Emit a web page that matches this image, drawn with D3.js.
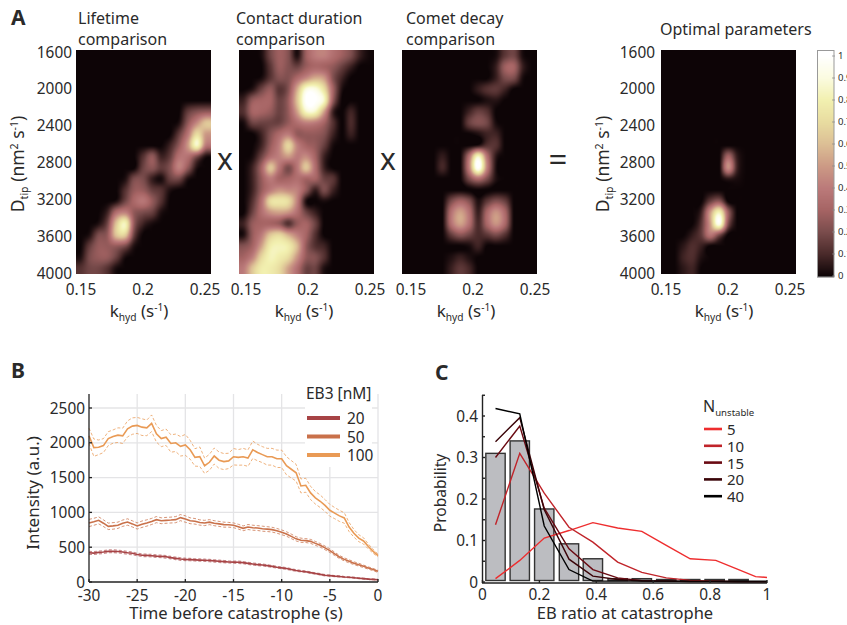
<!DOCTYPE html>
<html><head><meta charset="utf-8">
<script src="https://cdnjs.cloudflare.com/ajax/libs/d3/7.8.5/d3.min.js"></script>
<style>html,body{margin:0;padding:0;background:#fff;overflow:hidden}svg{display:block}text{font-family:"Noto Sans",sans-serif;fill:#2a2a2a}</style>
</head><body><svg id="c" width="847" height="625"></svg>
<script>
// ---- Panel A data ----
const khydGrid=[.1496,.1568,.1641,.1713,.1785,.1857,.193,.2002,.2074,.2146,.2219,.2291,.2363,.2435,.2507];
const dtipGrid=[1640,1761,1883,2004,2125,2247,2368,2489,2611,2732,2853,2975,3096,3217,3339,3460,3581,3703,3824,3945];
const khydTicks=[0.15,0.2,0.25];
const dtipTicks=[1600,2000,2400,2800,3200,3600,4000];
const lifetime=[
[0,0,0,0,0,0,0,0,0,0,0,0,0,0,0],
[0,0,0,0,0,0,0,0,0,0,0,0,0,0,0],
[0,0,0,0,0,0,0,0,0,0,0,0,0,0,0],
[0,0,0,0,0,0,0,0,0,0,0,0,0,0,0],
[0,0,0,0,0,0,0,0,0,0,0,0,0,0,0],
[0,0,0,0,0,0,0,0,0,0,0,0,.15,.22,.25],
[0,0,0,0,0,0,0,0,0,0,0,.03,.25,.45,.62],
[0,0,0,0,0,0,0,0,0,0,0,.15,.38,.7,.5],
[0,0,0,0,0,0,0,0,0,0,.08,.25,.5,.85,.4],
[0,0,0,0,0,0,0,.12,.25,.08,.15,.36,.36,.2,.03],
[0,0,0,0,0,0,0,.17,.24,.15,.22,.42,.25,.03,0],
[0,0,0,0,0,.03,.2,.2,.07,.02,.16,.18,.03,0,0],
[0,0,0,0,0,.12,.26,.26,.16,.12,.03,0,0,0,0],
[0,0,0,0,.03,.18,.32,.38,.26,.12,0,0,0,0,0],
[0,0,0,.08,.35,.42,.25,.2,.16,.03,0,0,0,0,0],
[0,0,.03,.18,.62,.82,.25,.08,.02,0,0,0,0,0,0],
[0,.03,.2,.26,.62,.65,.16,0,0,0,0,0,0,0,0],
[0,.15,.26,.26,.26,.2,.03,0,0,0,0,0,0,0,0],
[.03,.2,.26,.26,.16,.02,0,0,0,0,0,0,0,0,0],
[.12,.18,.18,.12,.02,0,0,0,0,0,0,0,0,0,0]];
const contact=[
[0,0,.02,.18,.28,.22,.03,.28,.4,.42,.35,.28,.2,.07,.01],
[0,0,0,.13,.27,.22,.17,.27,.32,.3,.25,.16,.07,0,0],
[0,0,.02,.13,.22,.22,.33,.45,.55,.5,.22,.08,0,0,0],
[0,.04,.17,.26,.13,.22,.55,.9,.92,.72,.3,.03,0,0,0],
[.08,.26,.3,.3,.17,.27,.62,1,1,.85,.26,0,0,0,0],
[.12,.3,.3,.26,.17,.26,.52,.85,.85,.52,.08,0,.08,0,0],
[.02,.17,.17,.17,.17,.26,.35,.42,.4,.3,.12,0,.1,0,0],
[0,0,.08,.22,.33,.4,.26,.26,.26,.22,.08,0,.07,0,0],
[0,0,.08,.26,.42,.68,.42,.3,.26,.16,.02,0,0,0,0],
[0,.02,.17,.35,.42,.5,.4,.45,.3,.08,0,0,0,0,0],
[0,.08,.3,.62,.38,.2,.38,.62,.35,.08,0,0,0,0,0],
[0,.08,.26,.4,.3,.3,.35,.3,.3,.17,.13,0,0,0,0],
[0,.08,.26,.4,.48,.45,.42,.25,.07,.2,.08,0,0,0,0],
[0,.12,.35,.7,.75,.7,.42,.03,0,.02,0,0,0,0,0],
[0,.17,.35,.48,.52,.48,.35,.17,.07,0,0,0,0,0,0],
[.08,.26,.3,.3,.26,.12,.26,.3,.17,0,0,0,0,0,0],
[.03,.26,.4,.62,.68,.55,.42,.3,.12,0,0,0,0,0,0],
[.22,.3,.52,.78,.82,.78,.58,.26,.12,.08,0,0,0,0,0],
[.3,.42,.68,.82,.78,.7,.48,.26,.22,.12,0,0,0,0,0],
[.4,.62,.78,.78,.7,.52,.35,.17,.17,.03,0,0,0,0,0]];
const comet=[
[0,0,0,0,0,0,0,0,0,0,.02,.14,.18,.02,0],
[0,0,0,0,0,0,0,0,0,0,.07,.28,.3,.07,0],
[0,0,0,0,0,0,0,0,0,0,.07,.2,.2,.02,0],
[0,0,0,0,0,0,0,0,.06,.12,.14,.08,0,0,0],
[0,0,0,0,0,0,0,0,0,.03,.04,0,0,0,0],
[0,0,0,0,0,0,0,.08,.16,.12,0,0,0,0,0],
[0,0,0,0,0,0,0,.16,.22,.18,.02,0,0,0,0],
[0,0,0,0,0,0,0,0,.03,.08,.08,0,0,0,0],
[0,0,0,0,0,0,0,0,.03,.12,.12,0,0,0,0],
[0,0,0,0,.06,0,0,.36,.85,.36,.05,0,0,0,0],
[0,0,0,0,.09,0,0,.42,1,.42,.03,0,0,0,0],
[0,0,0,0,0,0,0,.2,.34,.2,.03,0,0,0,0],
[0,0,0,0,0,0,0,0,0,0,0,0,0,0,0],
[0,0,0,0,0,.2,.3,.22,.03,.14,.22,.16,0,0,0],
[0,0,0,0,0,.36,.52,.36,.07,.32,.48,.32,0,0,0],
[0,0,0,0,0,.36,.52,.36,.1,.32,.48,.32,0,0,0],
[0,0,0,0,0,.15,.24,.18,.1,.14,.2,.12,0,0,0],
[0,0,0,0,0,0,0,.02,.08,0,0,0,0,0,0],
[0,0,0,0,0,.03,.07,.03,0,0,0,0,0,0,0],
[0,0,0,0,0,.07,.14,.09,0,0,0,0,0,0,0]];
const optimal=[
[0,0,0,0,0,0,0,0,0,0,0,0,0,0,0],
[0,0,0,0,0,0,0,0,0,0,0,0,0,0,0],
[0,0,0,0,0,0,0,0,0,0,0,0,0,0,0],
[0,0,0,0,0,0,0,0,0,0,0,0,0,0,0],
[0,0,0,0,0,0,0,0,0,0,0,0,0,0,0],
[0,0,0,0,0,0,0,0,0,0,0,0,0,0,0],
[0,0,0,0,0,0,0,0,0,0,0,0,0,0,0],
[0,0,0,0,0,0,0,0,0,0,0,0,0,0,0],
[0,0,0,0,0,0,0,0,0,0,0,0,0,0,0],
[0,0,0,0,0,0,0,.3,.06,0,0,0,0,0,0],
[0,0,0,0,0,0,0,.46,.08,0,0,0,0,0,0],
[0,0,0,0,0,0,0,.05,.02,0,0,0,0,0,0],
[0,0,0,0,0,0,0,0,0,0,0,0,0,0,0],
[0,0,0,0,0,.16,.24,0,0,0,0,0,0,0,0],
[0,0,0,0,.08,.5,.82,.28,0,0,0,0,0,0,0],
[0,0,0,0,.13,.5,.95,.22,0,0,0,0,0,0,0],
[0,0,0,.06,.15,.38,.2,0,0,0,0,0,0,0,0],
[0,0,.05,.11,.07,0,0,0,0,0,0,0,0,0,0],
[0,0,.08,.11,.03,0,0,0,0,0,0,0,0,0,0],
[0,0,.05,.08,0,0,0,0,0,0,0,0,0,0,0]];
const colorStops=[0,.1,.2,.3,.4,.5,.6,.7,.8,.9,1];
const colorRange=["#0d0406","#4a2a2a","#7a4c4c","#a66464","#bb7a7a","#cc9a85","#dcbf95","#e8dca0","#f2f0b0","#fbfbe0","#ffffff"];
const colorbarTicks=[0,.1,.2,.3,.4,.5,.6,.7,.8,.9,1];
// ---- Panel B data ----
const time=d3.range(-30,0.25,0.5);
const intensity20=[420,415,425,430,440,442,438,430,420,412,395,385,382,378,372,368,362,350,340,330,325,322,318,315,312,308,303,298,293,288,285,283,278,268,258,250,245,235,225,212,203,195,180,165,155,148,135,122,110,98,92,85,80,72,68,62,55,48,42,38,33];
const intensity50=[848,865,886,845,800,806,815,845,862,835,805,830,848,870,896,880,886,890,896,925,905,880,872,855,848,860,845,835,824,822,815,795,771,790,780,775,766,760,752,735,714,690,656,620,600,595,584,555,527,490,450,405,359,325,297,270,249,225,201,178,153];
const intensity100=[2100,1930,1935,1960,2060,2090,2110,2100,2200,2240,2250,2225,2215,2280,2130,2060,2080,1990,2000,1950,1970,1900,1790,1800,1670,1720,1810,1750,1730,1740,1800,1790,1800,1780,1900,1860,1830,1800,1800,1770,1770,1670,1620,1570,1380,1390,1280,1210,1160,1100,1030,990,950,920,790,700,630,590,510,440,380];
const sem20=[22,20,20,20,20,21,19,19,20,19,19,18,18,18,18,18,18,17,18,18,17,17,16,16,16,16,17,16,16,15,15,16,15,15,14,14,14,14,13,13,12,12,11,11,10,10,10,9,9,9,8,8,8,7,7,7,6,6,6,5,5];
const sem50=[52,50,50,48,46,47,45,45,46,44,44,46,45,44,44,42,42,42,44,44,46,42,40,38,38,36,36,36,36,34,34,34,34,36,36,35,36,35,34,34,34,32,32,30,30,28,28,28,26,26,26,24,22,22,22,20,20,18,16,16,15];
const sem100=[110,125,105,100,100,95,105,110,115,118,115,120,112,120,120,115,118,125,125,140,150,135,125,140,110,115,115,118,115,110,118,112,120,118,125,118,115,120,120,125,125,130,125,120,100,100,95,90,90,85,85,80,80,75,65,55,50,45,35,28,20];
const seriesColors=["#a74345","#c9714a","#e99a55"];
const seriesNames=["20","50","100"];
// ---- Panel C data ----
const histX=[.0457,.131,.217,.304,.388,.475,.56,.646,.73,.816,.9];
const histP=[.31,.34,.176,.092,.056,.008,.008,.004,.004,.004,.004];
const ratioX=[.0457,.131,.217,.304,.388,.475,.56,.646,.73,.82,.9,.96,1];
const n5=[.008,.052,.106,.124,.143,.13,.122,.088,.056,.052,.03,.013,.011];
const n10=[.138,.31,.214,.132,.096,.048,.023,.01,.004,.002,.001,.001,0];
const n15=[.30,.376,.178,.08,.03,.01,.003,.002,.001,.001,0,0,0];
const n20=[.338,.396,.174,.055,.014,.006,.003,.002,.001,.001,0,0,0];
const n40=[.418,.405,.135,.03,.002,.002,.002,.002,.002,.002,.002,.002,.002];
const nNames=["5","10","15","20","40"];
const nColors=["#ee2d2e","#c0242a","#6a0a12","#3a0408","#000000"];

const svg=d3.select("#c");
const FS=16,TICK=15.4;
function label(parent,x,y,parts,opt={}){
  const fs=opt.fs||FS;
  const t=parent.append("text").attr("x",x).attr("y",y).attr("font-size",fs)
    .attr("text-anchor",opt.anchor||"start");
  if(opt.rotate) t.attr("transform",`rotate(-90 ${x} ${y})`);
  if(opt.weight) t.attr("font-weight",opt.weight);
  let base=0;
  parts.forEach(p=>{
    const s=typeof p==="string"?{t:p}:p;
    const off=s.sub?4:s.sup?-6:0;
    const ts=t.append("tspan").text(s.t).attr("dy",off-base);
    base=off;
    if(s.sub||s.sup) ts.attr("font-size",fs*.6);
  });
  return t;
}
const color=d3.scaleLinear().domain(colorStops).range(colorRange).clamp(true);
function cub(a,b,c,d,t){return b+.5*t*(c-a+t*(2*a-5*b+4*c-d+t*(3*(b-c)+d-a)));}
function sample(m,fx,fy){
  const nx=m[0].length,ny=m.length;
  const cx=v=>Math.max(0,Math.min(nx-1,v)),cy=v=>Math.max(0,Math.min(ny-1,v));
  const ix=Math.floor(fx),iy=Math.floor(fy),tx=fx-ix,ty=fy-iy;
  const r=[];
  for(let j=-1;j<3;j++){const row=m[cy(iy+j)];
    r.push(cub(row[cx(ix-1)],row[cx(ix)],row[cx(ix+1)],row[cx(ix+2)],tx));}
  return Math.max(0,cub(r[0],r[1],r[2],r[3],ty));
}
const panels=[
 {m:lifetime,left:76,shift:0,gap:4,title:["Lifetime","comparison"],tx:78,ylab:true},
 {m:contact,left:239,shift:2,title:["Contact duration","comparison"],tx:236},
 {m:comet,left:402,shift:4,title:["Comet decay","comparison"],tx:406},
 {m:optimal,left:661,shift:0,gap:6,title:["Optimal parameters"],tx:660,ylab:true}
];
const PW=135,PT=50,PB=274;
const ky=d3.scaleLinear().domain([1600,4000]).range([52,273.5]);
const fi=d3.scaleLinear().domain([khydGrid[0],khydGrid[14]]).range([0,14]);
const fj=d3.scaleLinear().domain([dtipGrid[0],dtipGrid[19]]).range([0,19]);
panels.forEach(p=>{
  const kx=d3.scaleLinear().domain([0.15,0.25]).range([p.left+5,p.left+129]);
  const cv=document.createElement("canvas");cv.width=PW;cv.height=PB-PT;
  const ctx=cv.getContext("2d"),img=ctx.createImageData(PW,PB-PT);
  for(let j=0;j<PB-PT;j++)for(let i=0;i<PW;i++){
    const v=sample(p.m,fi(kx.invert(p.left+i+.5)),fj(ky.invert(PT+j+.5)));
    const c=d3.rgb(color(v)),o=(j*PW+i)*4;
    img.data[o]=c.r;img.data[o+1]=c.g;img.data[o+2]=c.b;img.data[o+3]=255;
  }
  ctx.putImageData(img,0,0);
  svg.append("image").attr("x",p.left).attr("y",PT).attr("width",PW).attr("height",PB-PT).attr("href",cv.toDataURL());
  const g=svg.append("g");
  const lx=kx.copy().range(kx.range().map(v=>v+p.shift));
  khydTicks.forEach(k=>label(g,lx(k),295,[String(k)],{anchor:"middle",fs:TICK}));
  label(g,p.left+(p===panels[1]?65:p===panels[2]?64:63),317,["k",{t:"hyd",sub:1},{t:" (s"},{t:"-1",sup:1},{t:")"}],{anchor:"middle",fs:17});
  if(p.ylab){
    dtipTicks.forEach(d=>label(g,p.left-p.gap,ky(d)+5.5,[String(d)],{anchor:"end",fs:TICK}));
    label(g,p.left-52,164,["D",{t:"tip",sub:1},{t:" (nm"},{t:"2",sup:1},{t:" s"},{t:"-1",sup:1},{t:")"}],{anchor:"middle",rotate:true,fs:17.5});
  }
  p.title.forEach((t,i)=>label(g,p.tx,p.title.length>1?(24+i*20.5):35,[t]));
});
// operators
label(svg,225,170,["x"],{fs:30,anchor:"middle"});
label(svg,388,170,["x"],{fs:30,anchor:"middle"});
label(svg,558,171,["="],{fs:33,anchor:"middle"});
// panel letters
label(svg,11,25,["A"],{fs:21,weight:"bold"});
label(svg,11,378,["B"],{fs:21,weight:"bold"});
label(svg,435,379.5,["C"],{fs:21,weight:"bold"});
// colorbar
(function(){
  const cb=d3.scaleLinear().domain([0,1]).range([276,56]);
  const g=svg.append("g");
  d3.range(0,226).forEach(i=>{
    const v=cb.invert(51+i+.5);
    g.append("rect").attr("x",817).attr("y",51+i).attr("width",17).attr("height",1.2).attr("fill",color(v));
  });
  g.append("rect").attr("x",817.5).attr("y",50.5).attr("width",16.5).attr("height",226.5).attr("fill","none").attr("stroke","#999").attr("stroke-width",1);
  colorbarTicks.forEach(t=>{
    g.append("line").attr("x1",832).attr("x2",835).attr("y1",cb(t)).attr("y2",cb(t)).attr("stroke","#888").attr("stroke-width",.7);
    label(g,838,cb(t)+3,[String(t)],{fs:9.5});
  });
})();
// ---- Panel B ----
(function(){
  const x=d3.scaleLinear().domain([-30,0]).range([89,378]);
  const y=d3.scaleLinear().domain([0,2500]).range([582,408]);
  const g=svg.append("g");
  const xt=d3.range(-30,1,5),yt=d3.range(0,2501,500);
  xt.slice(1).forEach(v=>g.append("line").attr("x1",x(v)).attr("x2",x(v)).attr("y1",394).attr("y2",582).attr("stroke","#e4e4e6").attr("stroke-width",1.3));
  yt.slice(1).forEach(v=>g.append("line").attr("x1",89).attr("x2",378).attr("y1",y(v)).attr("y2",y(v)).attr("stroke","#e4e4e6").attr("stroke-width",1.3));
  g.append("rect").attr("x",305).attr("y",383).attr("width",67).attr("height",84).attr("fill","#fff");
  const line=d3.line().x((d,i)=>x(time[i])).y(d=>y(d));
  [[intensity20,sem20],[intensity50,sem50],[intensity100,sem100]].forEach((s,k)=>{
    const up=s[0].map((v,i)=>v+s[1][i]),lo=s[0].map((v,i)=>v-s[1][i]);
    [up,lo].forEach(a=>g.append("path").attr("d",line(a)).attr("fill","none").attr("stroke",seriesColors[k]).attr("stroke-width",k===0?1.2:.9).attr("stroke-dasharray","3 2").attr("opacity",k===0?.6:.85));
    g.append("path").attr("d",line(s[0])).attr("fill","none").attr("stroke",seriesColors[k]).attr("stroke-width",1.6);
  });
  const ax=svg.append("g").attr("stroke","#222").attr("fill","none").attr("stroke-width",1.3);
  ax.append("line").attr("x1",89).attr("x2",89).attr("y1",394).attr("y2",582);
  ax.append("line").attr("x1",89).attr("x2",378).attr("y1",582).attr("y2",582);
  xt.forEach(v=>ax.append("line").attr("x1",x(v)).attr("x2",x(v)).attr("y1",582).attr("y2",579));
  yt.forEach(v=>ax.append("line").attr("x1",89).attr("x2",92).attr("y1",y(v)).attr("y2",y(v)));
  xt.forEach(v=>label(g,x(v),601,[String(v)],{anchor:"middle",fs:TICK}));
  yt.forEach(v=>label(g,85,y(v)+5.5,[String(v)],{anchor:"end",fs:TICK}));
  label(g,236,619,["Time before catastrophe (s)"],{anchor:"middle",fs:16.6});
  label(g,39,493,["Intensity (a.u.)"],{anchor:"middle",rotate:true,fs:17});
  label(g,306,399,["EB3 [nM]"],{fs:15.5});
  seriesNames.forEach((n,i)=>{
    const ly=418+i*18.5;
    g.append("line").attr("x1",307).attr("x2",340).attr("y1",ly).attr("y2",ly).attr("stroke",seriesColors[i]).attr("stroke-width",4);
    label(g,347,ly+6,[n],{fs:TICK});
  });
})();
// ---- Panel C ----
(function(){
  const x=d3.scaleLinear().domain([0,1]).range([482.5,767]);
  const y=d3.scaleLinear().domain([0,0.4]).range([582,416]);
  const g=svg.append("g");
  const bw=x(.068)-x(0);
  histX.forEach((v,i)=>g.append("rect").attr("x",x(v)-bw/2).attr("y",Math.min(y(histP[i]),579.5)).attr("width",bw).attr("height",Math.max(1,y(0)-y(histP[i])-1.5)).attr("fill","#bcbdc1").attr("stroke","#333").attr("stroke-width",1.4));
  const line=d3.line().x((d,i)=>x(ratioX[i])).y(d=>y(d));
  [n5,n10,n15,n20,n40].forEach((a,i)=>g.append("path").attr("d",line(a)).attr("fill","none").attr("stroke",nColors[i]).attr("stroke-width",1.4));
  const ax=svg.append("g").attr("stroke","#222").attr("fill","none").attr("stroke-width",1.4);
  ax.append("line").attr("x1",482.5).attr("x2",482.5).attr("y1",395).attr("y2",583);
  ax.append("line").attr("x1",482).attr("x2",767).attr("y1",583).attr("y2",583);
  d3.range(0,1.01,.2).forEach(v=>ax.append("line").attr("x1",x(v)).attr("x2",x(v)).attr("y1",583).attr("y2",580));
  d3.range(0,.46,.05).forEach(v=>ax.append("line").attr("x1",482).attr("x2",485).attr("y1",y(v)).attr("y2",y(v)));
  [0,.2,.4,.6,.8,1].forEach(v=>label(g,x(v),600,[String(v)],{anchor:"middle",fs:TICK}));
  [0,.1,.2,.3,.4].forEach(v=>label(g,478,y(v)+5.5,[String(v)],{anchor:"end",fs:TICK}));
  label(g,625,618.5,["EB ratio at catastrophe"],{anchor:"middle",fs:16.5});
  label(g,446,493,["Probability"],{anchor:"middle",rotate:true,fs:15.6});
  label(g,703,412,["N",{t:"unstable",sub:1}]);
  nNames.forEach((n,i)=>{
    const ly=429+i*16.8;
    g.append("line").attr("x1",704).attr("x2",722).attr("y1",ly).attr("y2",ly).attr("stroke",nColors[i]).attr("stroke-width",2.6);
    label(g,727,ly+6,[n],{fs:15});
  });
})();
</script></body></html>
